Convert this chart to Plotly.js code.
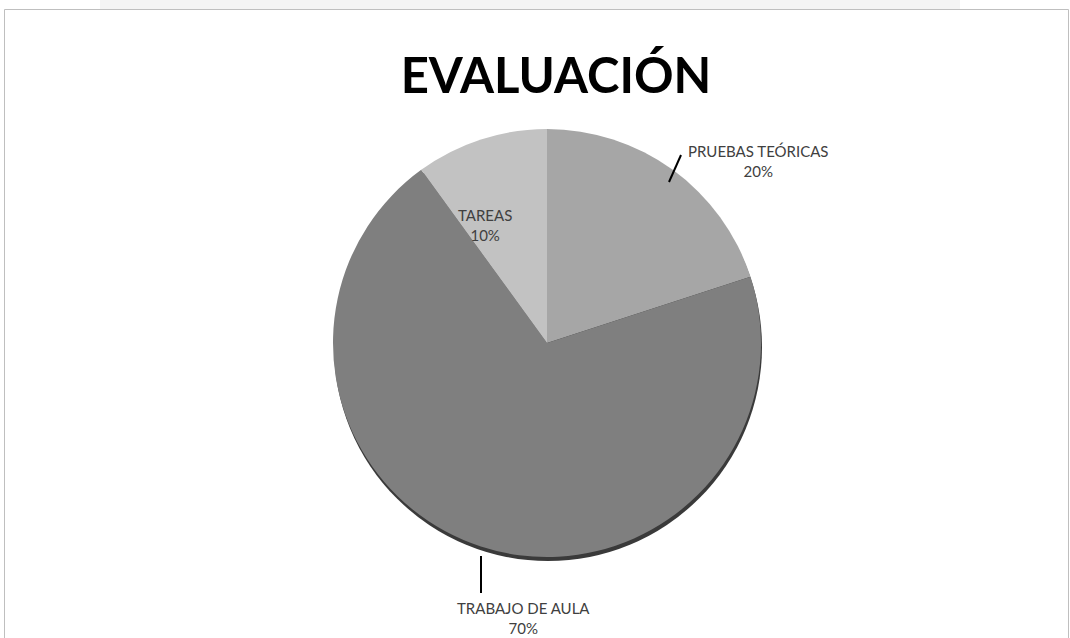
<!DOCTYPE html>
<html><head><meta charset="utf-8">
<script src="https://cdn.plot.ly/plotly-3.0.1.min.js"></script>
<style>html,body{margin:0;padding:0;background:#fff}#chart{width:1070px;height:638px}</style>
</head><body><div id="chart"></div>
<script>
const labels = ["PRUEBAS TEÓRICAS", "TRABAJO DE AULA", "TAREAS"];
const values = [20, 70, 10];
const colors = ["#a6a6a6", "#7f7f7f", "#c2c2c2"];

const W = 1070, H = 638;
const cx = 547, cy = 343, r = 214;
const px = x => x / W, py = y => 1 - y / H;

const shadow = {
  type: 'pie', values: [1], labels: ['s'], sort: false, hoverinfo: 'skip',
  textinfo: 'none', showlegend: false,
  marker: {colors: ['#3a3a3a'], line: {width: 0}},
  domain: {x: [px(cx - r + 1), px(cx + r + 1)], y: [py(cy + r + 4), py(cy - r + 4)]}
};
const pie = {
  type: 'pie', values: values, labels: labels, sort: false, direction: 'clockwise',
  rotation: 0, textinfo: 'none', showlegend: false, hoverinfo: 'label+percent',
  marker: {colors: colors, line: {width: 0}},
  domain: {x: [px(cx - r), px(cx + r)], y: [py(cy + r), py(cy - r)]}
};

const labelPos = [[758, 161], [523, 618], [485, 225]];
const font = {family: 'Lato, "Open Sans", sans-serif', size: 15, color: '#404040'};
const annotations = labels.map((l, i) => ({
  xref: 'paper', yref: 'paper', x: px(labelPos[i][0]), y: py(labelPos[i][1]),
  text: l + '<br>' + values[i] + '%', showarrow: false, font: font,
  xanchor: 'center', yanchor: 'middle', align: 'center'
}));

const shapes = [
  {type: 'rect', xref: 'paper', yref: 'paper', x0: px(100), x1: px(960), y0: py(9), y1: py(0),
   fillcolor: '#f4f4f4', line: {width: 0}, layer: 'below'},
  {type: 'rect', xref: 'paper', yref: 'paper', x0: px(4.5), x1: px(1068.5), y0: py(645), y1: py(9.5),
   fillcolor: 'rgba(0,0,0,0)', line: {color: '#bfbfbf', width: 1}},
  {type: 'line', xref: 'paper', yref: 'paper', x0: px(681), y0: py(155), x1: px(669), y1: py(182),
   line: {color: '#000', width: 2}},
  {type: 'line', xref: 'paper', yref: 'paper', x0: px(481), y0: py(556), x1: px(481), y1: py(593),
   line: {color: '#000', width: 2}}
];

const layout = {
  width: W, height: H, margin: {l: 0, r: 0, t: 0, b: 0},
  paper_bgcolor: '#fff', plot_bgcolor: '#fff', showlegend: false,
  title: {text: '<b>EVALUACIÓN</b>', x: px(556), xanchor: 'center', y: py(76), yanchor: 'middle',
          font: {family: 'Lato, "Open Sans", sans-serif', size: 49, color: '#000'}},
  annotations: annotations, shapes: shapes
};
Plotly.newPlot('chart', [shadow, pie], layout, {displayModeBar: false, staticPlot: true});
</script></body></html>
